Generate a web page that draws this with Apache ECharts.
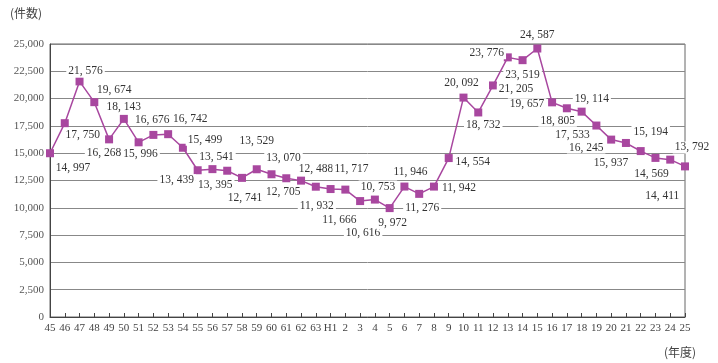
<!DOCTYPE html>
<html><head><meta charset="utf-8">
<script src="https://cdn.jsdelivr.net/npm/echarts@6/dist/echarts.min.js"></script>
<style>html,body{margin:0;padding:0;background:#fff}#c{width:718px;height:363px}</style>
</head><body><div id="c"></div>
<script>
const categories = ['45','46','47','48','49','50','51','52','53','54','55','56','57','58','59','60','61','62','63','H1','2','3','4','5','6','7','8','9','10','11','12','13','14','15','16','17','18','19','20','21','22','23','24','25'];
const counts = [14997,17750,21576,19674,16268,18143,15996,16676,16742,15499,13439,13541,13395,12741,13529,13070,12705,12488,11932,11717,11666,10616,10753,9972,11946,11276,11942,14554,20092,18732,21205,23776,23519,24587,19657,19114,18805,17533,16245,15937,15194,14569,14411,13792];
const yTicks = [0,2500,5000,7500,10000,12500,15000,17500,20000,22500,25000];
const yUnit = '(件数)';
const xUnit = '(年度)';
// label offsets (styling, px) relative to each point
const labelOffsets = [[23,15],[18,12],[6,-10],[20,-12],[-5,14],[0,-12],[2,12],[-1,-15],[22,-15],[22,-8],
 [-21,10],[4,-12],[-12,14],[3,20],[0,-28],[12,-16],[-3,14],[15,-12],[1,19],[21,-20],
 [-6,30],[3,32],[3,-13],[3,15],[6,-15],[3,14],[25,1],[24,4],[-2,-15],[5,13],
 [23,4],[-21,-4],[0,15],[0,-14],[-25,2],[25,-9],[-24,9],[-24,9],[-25,8],[-15,20],
 [10,-19],[-4,16],[-8,36],[7,-19]];
const fmt = v => String(v).replace(/\B(?=(\d{3})+(?!\d))/g, ', ');
const fmtTick = v => String(v).replace(/\B(?=(\d{3})+(?!\d))/g, ',');
const chart = echarts.init(document.getElementById('c'), null, {renderer:'canvas'});
const serif = '"Liberation Serif","DejaVu Serif",serif';
chart.setOption({
  animation:false,
  grid:{left:50,right:33,top:44,bottom:46,show:true,borderColor:'#666',borderWidth:1},
  graphic:[
    {type:'text',left:10,top:7,style:{text:yUnit,font:'12px "Noto Sans CJK JP"',fill:'#444'}},
    {type:'text',left:664,top:346,style:{text:xUnit,font:'12px "Noto Sans CJK JP"',fill:'#444'}}
  ],
  xAxis:{type:'category',data:categories,boundaryGap:false,
    axisLine:{lineStyle:{color:'#444',width:1}},
    axisTick:{inside:true,length:4,lineStyle:{color:'#444'},alignWithLabel:true},
    axisLabel:{interval:0,color:'#444',fontFamily:serif,fontSize:11,margin:6},
    splitLine:{show:false}},
  yAxis:{type:'value',min:0,max:25000,interval:2500,
    axisLine:{show:true,lineStyle:{color:'#444',width:1}},
    axisTick:{show:false},
    axisLabel:{color:'#555',fontFamily:serif,fontSize:11,margin:6,formatter:v=>fmtTick(v)},
    splitLine:{lineStyle:{color:'#888',width:1}}},
  series:[{type:'line',
    data:counts.map((v,i)=>({value:v,label:{offset:labelOffsets[i]}})),
    symbol:'rect',symbolSize:8,
    lineStyle:{color:'#A8479F',width:1.5},
    itemStyle:{color:'#A8479F'},
    label:{show:true,position:'inside',align:'center',verticalAlign:'middle',
      color:'#333',fontFamily:serif,fontSize:11.5,backgroundColor:'#fff',padding:[0,2],
      formatter:p=>fmt(p.value)},
    z:3}]
});
</script></body></html>
